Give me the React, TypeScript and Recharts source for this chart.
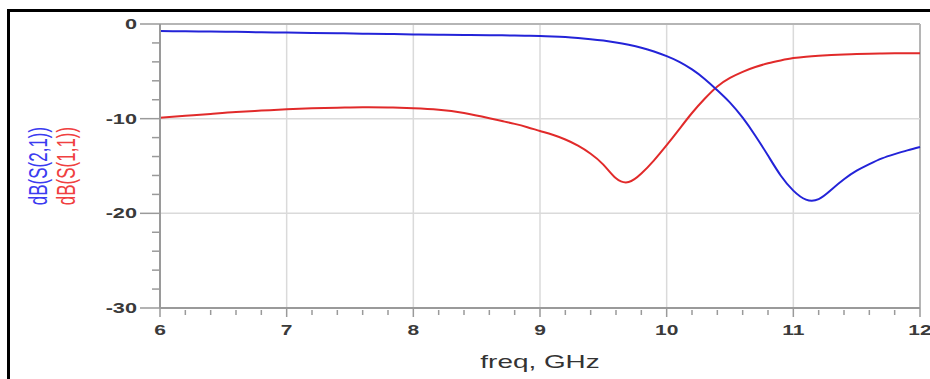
import React from 'react';
import { LineChart, Line, XAxis, YAxis, ReferenceLine, Label } from 'recharts';

// frequency points (GHz): 0.2 GHz step on the flat part, 0.1 GHz from 8.6 on
const freq = [
  6, 6.2, 6.4, 6.6, 6.8, 7, 7.2, 7.4, 7.6, 7.8, 8, 8.2, 8.4,
  8.6, 8.7, 8.8, 8.9, 9, 9.1, 9.2, 9.3, 9.4, 9.5, 9.6, 9.7, 9.8, 9.9, 10,
  10.1, 10.2, 10.3, 10.4, 10.5, 10.6, 10.7, 10.8, 10.9, 11,
  11.1, 11.2, 11.3, 11.4, 11.5, 11.6, 11.7, 11.8, 11.9, 12,
];
// dB(S(2,1)) - blue
const s21 = [
  -0.74, -0.77, -0.8, -0.83, -0.87, -0.9, -0.94, -0.98, -1.02, -1.06, -1.1, -1.13, -1.16,
  -1.19, -1.2, -1.22, -1.24, -1.26, -1.31, -1.38, -1.48, -1.6, -1.75, -1.95, -2.2, -2.5, -2.9, -3.4,
  -4.0, -4.8, -5.8, -7.0, -8.3, -9.9, -11.8, -13.9, -16.0, -17.6,
  -18.55, -18.5, -17.5, -16.4, -15.5, -14.8, -14.2, -13.75, -13.35, -13.0,
];
// dB(S(1,1)) - red
const s11 = [
  -9.9, -9.7, -9.5, -9.3, -9.15, -9.0, -8.9, -8.85, -8.8, -8.82, -8.9, -9.05, -9.4,
  -9.95, -10.25, -10.55, -10.9, -11.3, -11.7, -12.2, -12.85, -13.7, -14.85, -16.3, -16.7, -15.8, -14.4, -12.8,
  -11.1, -9.4, -7.9, -6.6, -5.7, -5.05, -4.55, -4.15, -3.85, -3.6,
  -3.45, -3.35, -3.27, -3.21, -3.17, -3.14, -3.12, -3.1, -3.1, -3.1,
];

const xMajor = [6, 7, 8, 9, 10, 11, 12];
const xTicks = [6, 6.2, 6.4, 6.6, 6.8, 7, 7.2, 7.4, 7.6, 7.8, 8, 8.2, 8.4, 8.6, 8.8, 9, 9.2, 9.4, 9.6, 9.8, 10, 10.2, 10.4, 10.6, 10.8, 11, 11.2, 11.4, 11.6, 11.8, 12];
const yMajor = [0, -10, -20, -30];
const yTicks = [-30, -28, -26, -24, -22, -20, -18, -16, -14, -12, -10, -8, -6, -4, -2, 0];

const data = freq.map((f, i) => ({ freq: f, s21: s21[i], s11: s11[i] }));

const BLUE = '#2323d8';
const RED = '#e12a2a';
const AXIS = '#9a9a9a';
const GRID = '#dadada';

const isInt = (v: number) => Math.abs(v - Math.round(v)) < 1e-6;

const XTick = ({ x, y, payload }: any) => {
  const major = isInt(payload.value);
  return (
    <g>
      <line x1={x} x2={x} y1={major ? y : y + 2} y2={major ? y + 9 : y + 7} stroke={AXIS} strokeWidth={1.5} />
      {major && (
        <g transform={`translate(${x},${y + 27}) scale(1.5,1)`}>
          <text textAnchor="middle" fontFamily="Liberation Sans, Arial, sans-serif" fontWeight="bold" fontSize={14} fill="#3a3a3a">
            {payload.value}
          </text>
        </g>
      )}
    </g>
  );
};

const YTick = ({ x, y, payload }: any) => {
  const major = payload.value % 10 === 0;
  return (
    <g>
      <line x1={major ? x - 20 : x - 8} x2={x} y1={y} y2={y} stroke={AXIS} strokeWidth={1.5} />
      {major && (
        <g transform={`translate(${x - 23},${y + 5}) scale(1.55,1)`}>
          <text textAnchor="end" fontFamily="Liberation Sans, Arial, sans-serif" fontWeight="bold" fontSize={14} fill="#3a3a3a">
            {payload.value}
          </text>
        </g>
      )}
    </g>
  );
};

const XLabel = ({ viewBox }: any) => {
  const cx = viewBox.x + viewBox.width / 2;
  return (
    <g transform={`translate(${cx},${viewBox.y + 60}) scale(1.55,1)`}>
      <text textAnchor="middle" fontFamily="Liberation Sans, Arial, sans-serif" fontSize={18} fill="#333">
        freq, GHz
      </text>
    </g>
  );
};

const YLabel = ({ viewBox }: any) => {
  const cy = viewBox.y + viewBox.height / 2;
  return (
    <g>
      <g transform={`translate(47,${cy}) scale(1.5,1) rotate(-90)`}>
        <text textAnchor="middle" fontFamily="Liberation Sans, Arial, sans-serif" fontSize={17} fill="#3b3bf0">
          dB(S(2,1))
        </text>
      </g>
      <g transform={`translate(75,${cy}) scale(1.5,1) rotate(-90)`}>
        <text textAnchor="middle" fontFamily="Liberation Sans, Arial, sans-serif" fontSize={17} fill="#f04040">
          dB(S(1,1))
        </text>
      </g>
    </g>
  );
};

export default function App() {
  return (
    <div style={{ position: 'relative', width: 930, height: 379, background: '#fff', overflow: 'hidden' }}>
      <style>{'body{margin:0}'}</style>
      <LineChart width={930} height={379} data={data} margin={{ top: 24, right: 10, left: 0, bottom: 0 }}>
        <XAxis
          dataKey="freq"
          type="number"
          domain={[6, 12]}
          ticks={xTicks}
          interval={0}
          height={71}
          tickSize={0}
          tickMargin={0}
          tickLine={false}
          tick={<XTick />}
          axisLine={{ stroke: AXIS, strokeWidth: 2 }}
        >
          <Label content={<XLabel />} />
        </XAxis>
        <YAxis
          type="number"
          domain={[-30, 0]}
          ticks={yTicks}
          interval={0}
          width={160}
          tickSize={0}
          tickMargin={0}
          tickLine={false}
          tick={<YTick />}
          axisLine={{ stroke: AXIS, strokeWidth: 2 }}
        >
          <Label content={<YLabel />} />
        </YAxis>
        {xMajor.slice(1).map((v) => (
          <ReferenceLine key={'x' + v} x={v} stroke={v === 12 ? '#b5b5b5' : GRID} strokeWidth={v === 12 ? 2 : 1.5} />
        ))}
        {yMajor.slice(0, 3).map((v) => (
          <ReferenceLine key={'y' + v} y={v} stroke={v === 0 ? '#b5b5b5' : GRID} strokeWidth={v === 0 ? 2 : 1.5} />
        ))}
        <Line type="natural" dataKey="s11" stroke={RED} strokeWidth={2} dot={false} isAnimationActive={false} />
        <Line type="natural" dataKey="s21" stroke={BLUE} strokeWidth={2} dot={false} isAnimationActive={false} />
      </LineChart>
      <div
        style={{
          position: 'absolute',
          left: 7,
          top: 9,
          width: 1000,
          height: 500,
          borderTop: '3px solid #000',
          borderLeft: '3px solid #000',
          pointerEvents: 'none',
        }}
      />
    </div>
  );
}
